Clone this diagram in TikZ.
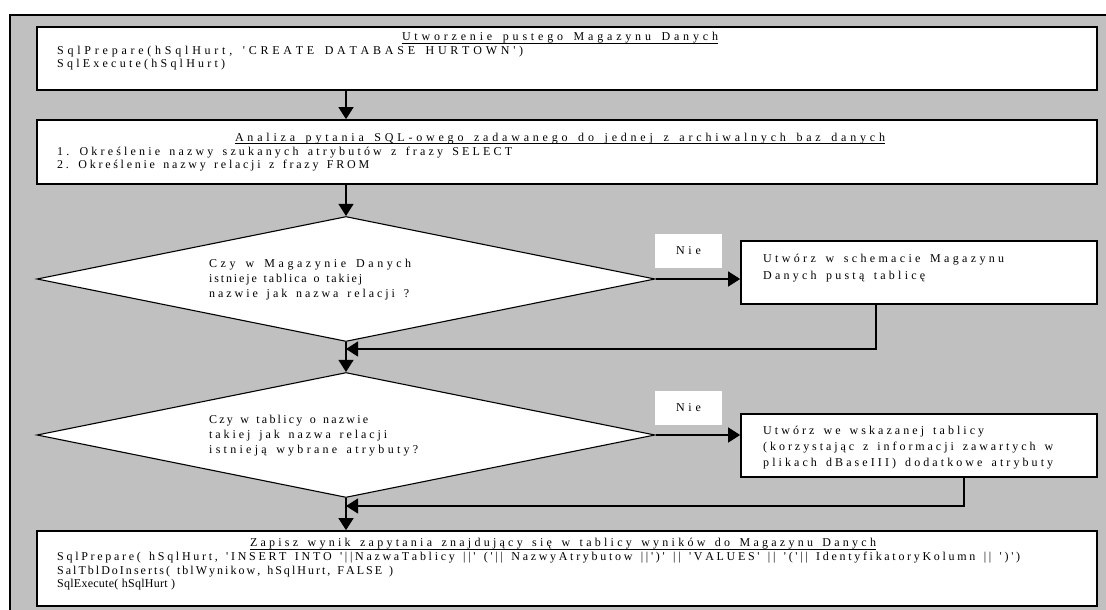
\documentclass[tikz,border=0pt]{standalone}
\usepackage{fontspec}
\setmainfont{Liberation Serif}[Ligatures=TeXOff]
\usetikzlibrary{arrows.meta,shapes.geometric}
\definecolor{bg}{RGB}{192,192,192}
\ExplSyntaxOn
\NewDocumentCommand\sprd{mm}{\hbox_to_wd:nn{#1}{\str_map_inline:nn{#2}{##1\hfil}\unskip}}
\ExplSyntaxOff
\begin{document}
\begin{tikzpicture}[x=1pt,y=-1pt,
  every node/.style={font=\fontsize{12}{13}\selectfont},
  box/.style={draw=black,line width=1.7pt,fill=white,rectangle,inner sep=0pt},
  dia/.style={draw=black,line width=1.1pt,fill=white,diamond,inner sep=0pt,minimum width=618pt,minimum height=125pt},
  nie/.style={fill=white,inner sep=0pt,minimum width=67pt,minimum height=34pt},
  txt/.style={inner sep=0pt,anchor=base west},
  ttl/.style={inner sep=0pt,anchor=base},
  ul/.style={line width=0.8pt},
  arr/.style={line width=1.2pt,-{Triangle[length=12pt,width=15pt]}}]
\useasboundingbox (0,0) rectangle (1106,610);
\clip (0,0) rectangle (1106,610);
\fill[bg] (10,15) rectangle (1120,625);
\draw[line width=2.4pt] (1120,15) -- (10,15) -- (10,625);
% boxes
\node[box,minimum width=1060pt,minimum height=63pt] (b1) at (567,58.5) {};
\node[box,minimum width=1060pt,minimum height=64pt] (b2) at (567,152) {};
\node[box,minimum width=356pt,minimum height=63pt] (b3) at (919,272.5) {};
\node[box,minimum width=356pt,minimum height=63pt] (b4) at (919,445.5) {};
\node[box,minimum width=1060pt,minimum height=75pt] (b5) at (567,568.5) {};
\node[dia] (d1) at (346,279) {};
\node[dia] (d2) at (346,435) {};
\node[nie] (n1) at (688.5,251) {\sprd{25pt}{Nie}};
\node[nie] (n2) at (688.5,408) {\sprd{25pt}{Nie}};
% texts box 1
\node[ttl] (t1) at (560,41) {\sprd{316pt}{Utworzenie pustego Magazynu Danych}};
\draw[ul] ([yshift=-2.5pt]t1.base west) -- ([yshift=-2.5pt]t1.base east);
\node[txt] (t2) at (57,55) {\sprd{466pt}{SqlPrepare(hSqlHurt, 'CREATE DATABASE HURTOWN')}};
\node[txt] (t3) at (57,68) {\sprd{168pt}{SqlExecute(hSqlHurt)}};
% box 2
\node[ttl] (t4) at (560,141) {\sprd{650pt}{Analiza pytania SQL-owego zadawanego do jednej z archiwalnych baz danych}};
\draw[ul] ([yshift=-2.5pt]t4.base west) -- ([yshift=-2.5pt]t4.base east);
\node[txt] (t5) at (57,155) {\sprd{455pt}{1. Określenie nazwy szukanych atrybutów z frazy SELECT}};
\node[txt] (t6) at (57,168) {\sprd{312pt}{2. Określenie nazwy relacji z frazy FROM}};
% diamond 1
\node[txt] (q1) at (209,267.5) {\sprd{202pt}{Czy w Magazynie Danych}};
\node[txt] (q2) at (209,282.5) {\sprd{153pt}{istnieje tablica o takiej}};
\node[txt] (q3) at (209,297.5) {\sprd{200pt}{nazwie jak nazwa relacji ?}};
% diamond 2
\node[txt] (q4) at (209,423.5) {\sprd{159pt}{Czy w tablicy o nazwie}};
\node[txt] (q5) at (209,438.5) {\sprd{178pt}{takiej jak nazwa relacji}};
\node[txt] (q6) at (209,453.5) {\sprd{209pt}{istnieją wybrane atrybuty?}};
% box 3
\node[txt] (r1) at (763,262.5) {\sprd{241pt}{Utwórz w schemacie Magazynu}};
\node[txt] (r2) at (763,279.5) {\sprd{162pt}{Danych pustą tablicę}};
% box 4
\node[txt] (r3) at (763,434.5) {\sprd{221pt}{Utwórz we wskazanej tablicy}};
\node[txt] (r4) at (763,450.5) {\sprd{290pt}{(korzystając z informacji zawartych w}};
\node[txt] (r5) at (763,466.5) {\sprd{290pt}{plikach dBaseIII) dodatkowe atrybuty}};
% box 5
\node[ttl] (t7) at (563,546.5) {\sprd{626pt}{Zapisz wynik zapytania znajdujący się w tablicy wyników do Magazynu Danych}};
\draw[ul] ([yshift=-2.5pt]t7.base west) -- ([yshift=-2.5pt]t7.base east);
\node[txt] (t8) at (57,560.5) {\sprd{963pt}{SqlPrepare( hSqlHurt, 'INSERT INTO '||NazwaTablicy ||' ('|| NazwyAtrybutow ||')' || 'VALUES' || '('|| IdentyfikatoryKolumn || ')')}};
\node[txt] (t9) at (57,574) {\sprd{336pt}{SalTblDoInserts( tblWynikow, hSqlHurt, FALSE )}};
\node[txt] (t10) at (57,587.5) {\sprd{118pt}{SqlExecute( hSqlHurt )}};
% connectors
\coordinate (m1) at (346,349);
\coordinate (m2) at (346,506);
\draw[arr] (b1.south -| d1.north) -- (b2.north -| d1.north);
\draw[arr] (b2.south -| d1.north) -- (d1.north);
\draw[arr] (d1.east) -- (d1.east -| b3.west);
\draw[arr] ([xshift=-43pt]b3.south) |- (m1);
\draw[arr] (d1.south) -- (d2.north);
\draw[arr] (d2.east) -- (d2.east -| b4.west);
\draw[arr] ([xshift=45pt]b4.south) |- (m2);
\draw[arr] (d2.south) -- (b5.north -| d2.south);
\end{tikzpicture}
\end{document}
